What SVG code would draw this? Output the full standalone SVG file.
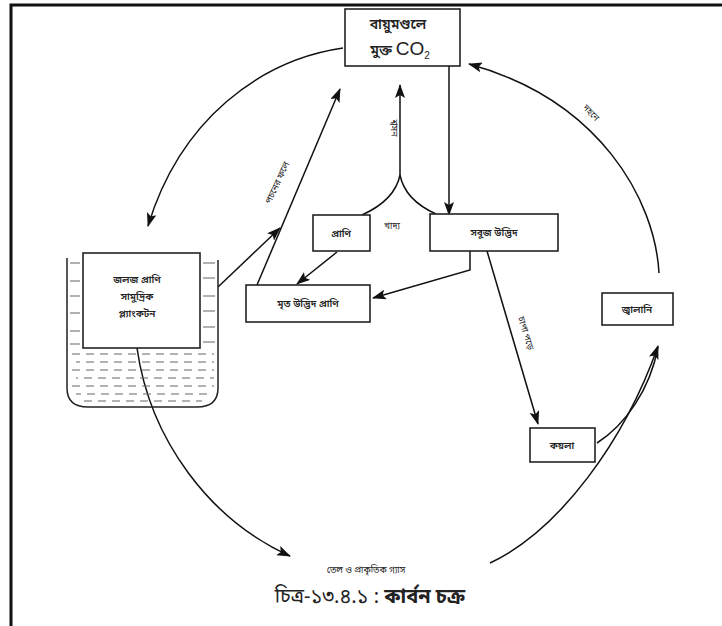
<svg xmlns="http://www.w3.org/2000/svg" width="722" height="626" viewBox="0 0 722 626">
<style>
.box{fill:#fff;stroke:#222;stroke-width:1.6}
.ln{fill:none;stroke:#111;stroke-width:1.5}
.t{font-family:"Noto Sans Bengali","Lohit Bengali","FreeSans","Noto Sans",sans-serif;fill:#222;text-anchor:middle}
.s{font-size:9px}
.b{font-size:10px;font-weight:600}
.dash{stroke:#666;stroke-width:1.1}
</style>
<defs>
<marker id="ah" viewBox="0 0 14 10" refX="13" refY="5" markerWidth="14" markerHeight="10" markerUnits="userSpaceOnUse" orient="auto">
<path d="M0,0 L14,5 L0,10 L3,5 Z" fill="#111"/>
</marker>
</defs>
<rect width="722" height="626" fill="#fff"/>
<path d="M11,626 V5 H722" fill="none" stroke="#111" stroke-width="3"/>

<g id="connectors">
<path class="ln" d="M343,48 C260,60 180,120 148,226" marker-end="url(#ah)"/>
<path class="ln" d="M449,66 V215" marker-end="url(#ah)"/>
<path class="ln" d="M362,215 Q395,200 400,175 Q405,200 436,214"/>
<path class="ln" d="M400,175 V85" marker-end="url(#ah)"/>
<path class="ln" d="M257,285 L340,89" marker-end="url(#ah)"/>
<path class="ln" d="M218,287 L280,228" marker-end="url(#ah)"/>
<path class="ln" d="M337,252 L297,284" marker-end="url(#ah)"/>
<path class="ln" d="M470,251 V270 L373,298" marker-end="url(#ah)"/>
<path class="ln" d="M487,251 L538,424" marker-end="url(#ah)"/>
<path class="ln" d="M137,348 C150,440 210,520 290,556" marker-end="url(#ah)"/>
<path class="ln" d="M490,563 C560,530 625,440 658,346" marker-end="url(#ah)"/>
<path class="ln" d="M597,443 C625,425 650,390 658,347"/>
<path class="ln" d="M659,273 C655,200 600,100 469,64" marker-end="url(#ah)"/>
<text class="t s" x="392" y="229">খাদ্য</text>
<text class="t s" transform="translate(391,128) rotate(90)">শ্বসন</text>
<text class="t s" transform="translate(280,184) rotate(-65)">পচনের ফলে</text>
<text class="t s" transform="translate(589,115) rotate(46)">দহনে</text>
<text class="t s" transform="translate(523,334) rotate(73)">চাপা পড়ে</text>
<text class="t s" x="366" y="573">তেল ও প্রাকৃতিক গ্যাস</text>
</g>

<g id="co2">
<rect class="box" x="345" y="9" width="115" height="57"/>
<text class="t" x="398" y="29" font-size="14" font-weight="600">বায়ুমণ্ডলে</text>
<text class="t" x="400" y="55" font-size="14" font-weight="600"><tspan>মুক্ত </tspan><tspan font-family="Liberation Sans,Arial,sans-serif" font-weight="400" font-size="19">CO</tspan><tspan font-family="Liberation Sans,Arial,sans-serif" font-weight="400" font-size="10" dy="4">2</tspan></text>
</g>

<g id="prani">
<rect class="box" x="313" y="215" width="57" height="36"/>
<text class="t b" x="341" y="237">প্রাণি</text>
</g>

<g id="sabuj">
<rect class="box" x="430" y="214" width="128" height="37"/>
<text class="t b" x="494" y="236">সবুজ উদ্ভিদ</text>
</g>

<g id="mrito">
<rect class="box" x="246" y="285" width="124" height="37"/>
<text class="t b" x="308" y="307">মৃত উদ্ভিদ প্রাণি</text>
</g>

<g id="beaker">
<path d="M67,258 V388 Q67,407 88,407 H197 Q218,407 218,388 V260" fill="none" stroke="#222" stroke-width="1.5"/>
<g class="dash">
<path d="M70,263 h10 M70,281 h10 M70,296 h10 M70,313 h10 M70,331 h10 M70,344 h10"/>
<path d="M203,263 h12 M203,278 h12 M203,296 h12 M203,311 h12 M203,327 h12 M203,342 h12"/>
</g>
<g class="dash" stroke-dasharray="8,6">
<path d="M72,354 H214"/>
<path d="M76,362 H214" stroke-dashoffset="4"/>
<path d="M72,370 H214"/>
<path d="M76,378 H214" stroke-dashoffset="6"/>
<path d="M72,386 H214"/>
<path d="M76,394 H212" stroke-dashoffset="3"/>
<path d="M84,401 H202"/>
</g>
<rect class="box" x="83" y="253" width="117" height="95"/>
<text class="t b" x="137" y="283">জলজ প্রাণি</text>
<text class="t b" x="137" y="300">সামুদ্রিক</text>
<text class="t b" x="137" y="317">প্ল্যাংকটন</text>
</g>

<g id="jalani">
<rect class="box" x="602" y="293" width="71" height="32"/>
<text class="t b" x="637" y="313">জ্বালানি</text>
</g>

<g id="koyla">
<rect class="box" x="530" y="428" width="65" height="34"/>
<text class="t b" x="562" y="449">কয়লা</text>
</g>

<text class="t" x="370" y="603" font-size="20">চিত্র-১৩.৪.১ : <tspan font-weight="700">কার্বন চক্র</tspan></text>
</svg>
